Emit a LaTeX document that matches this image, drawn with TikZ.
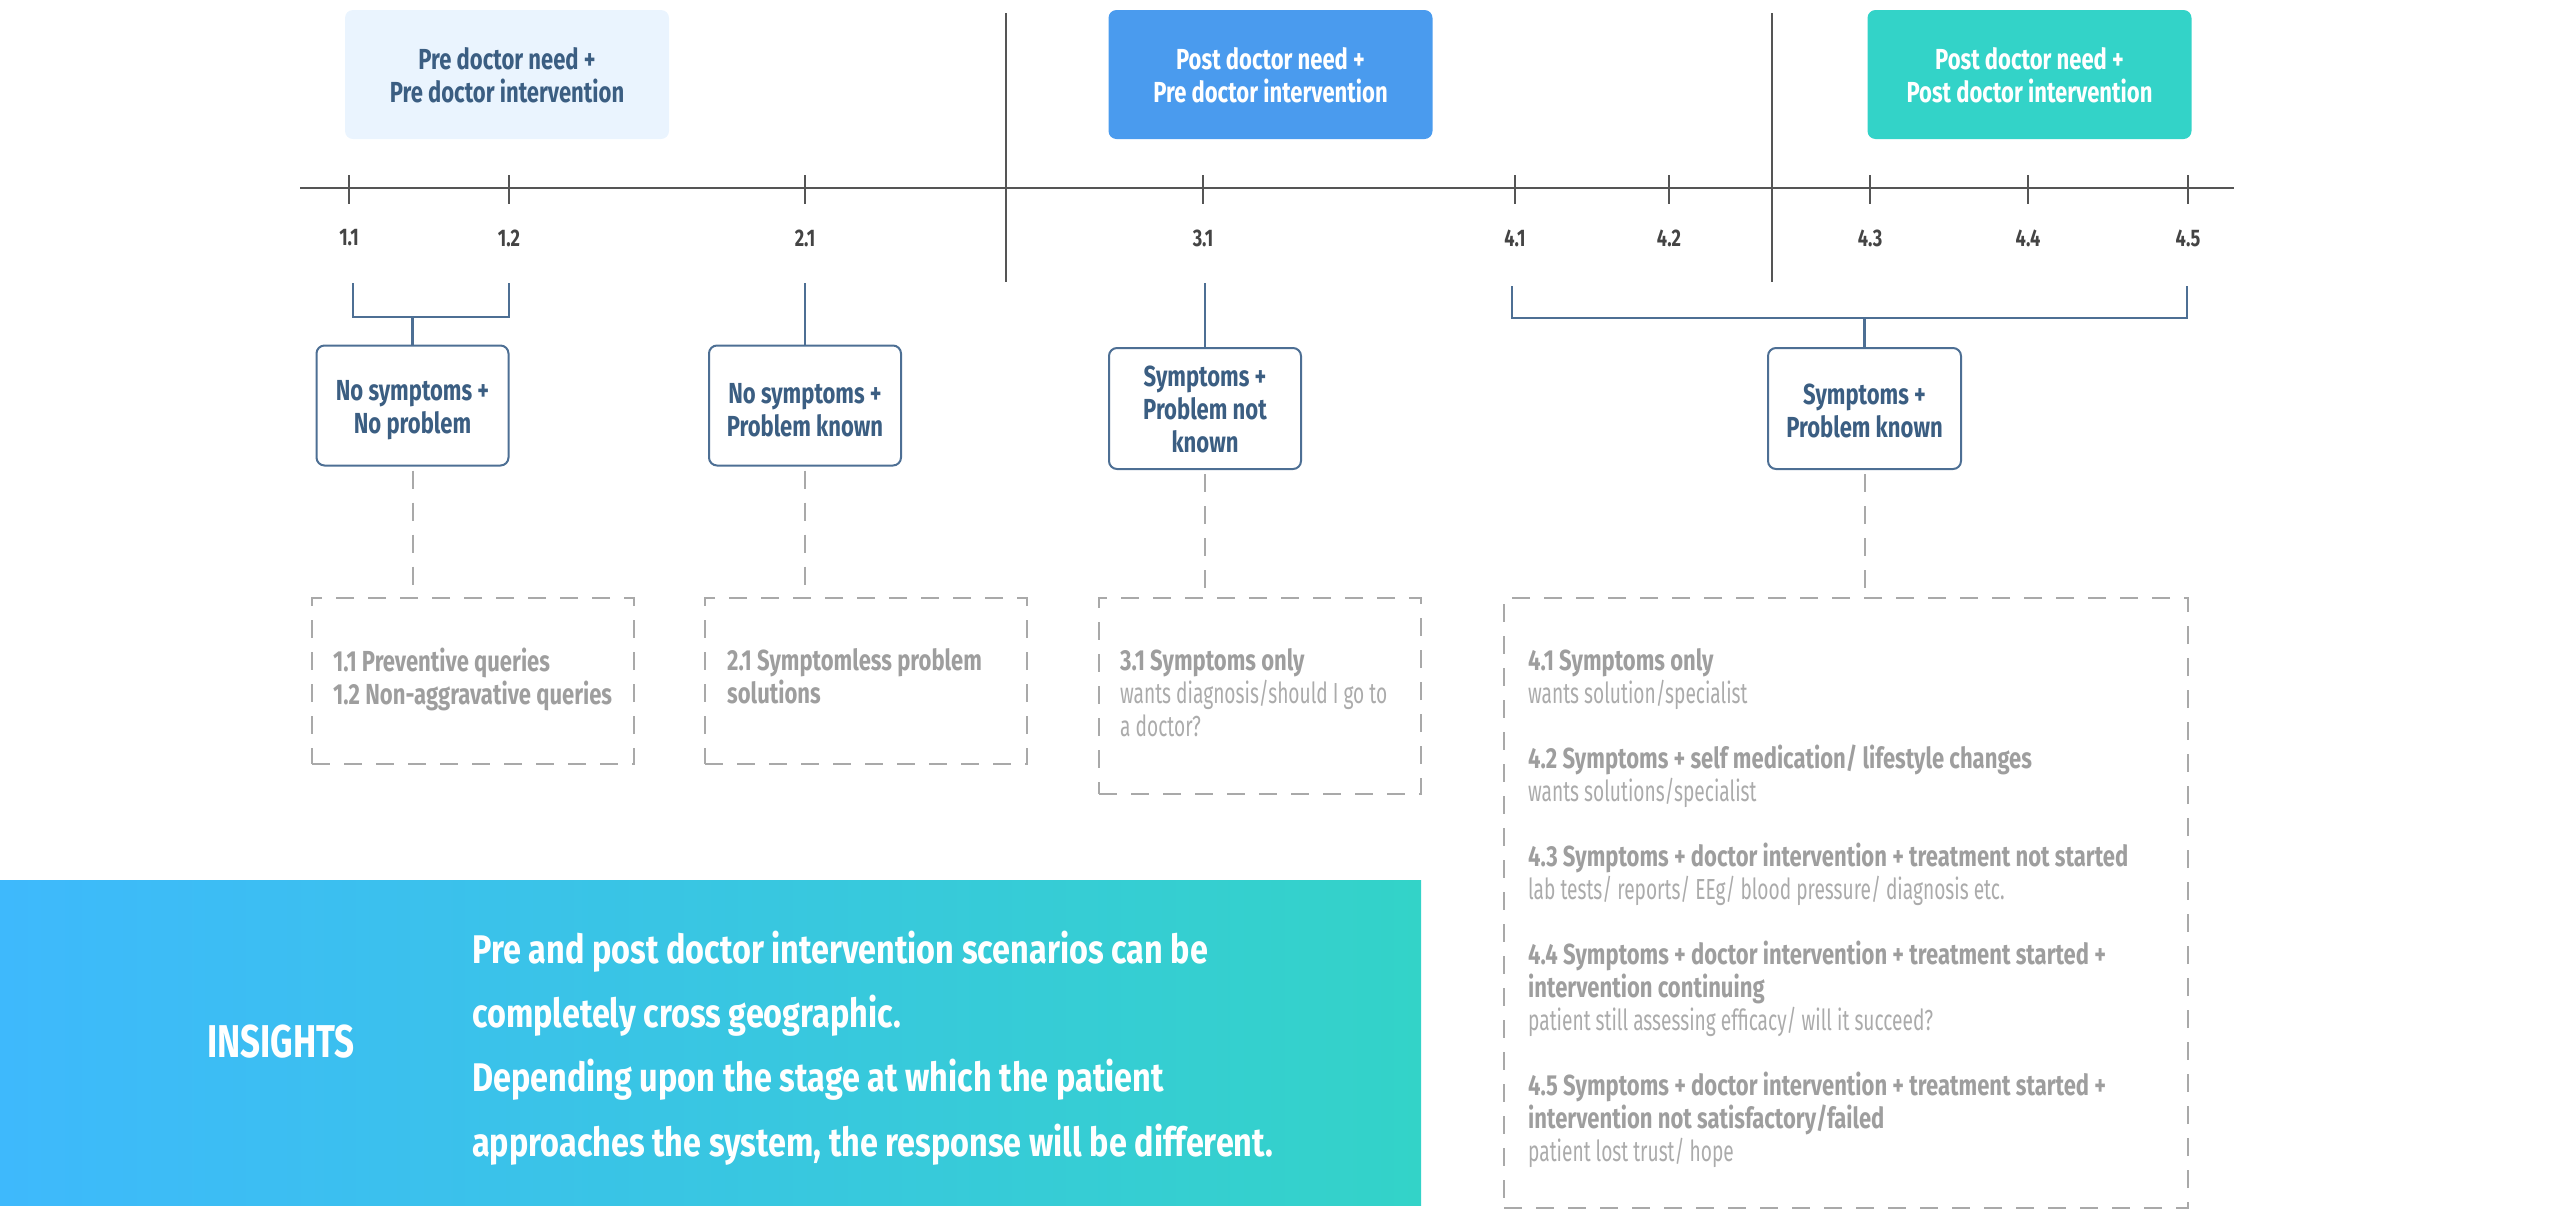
\documentclass[tikz,border=0pt]{standalone}
\usepackage{fontspec}
\setmainfont{Fira Sans}[FakeStretch=0.76]
\newfontfamily\insfont{Fira Sans}[FakeStretch=0.81]
\newfontfamily\lightfont{Fira Sans}[FakeStretch=0.66]
\newcommand\pdn[1]{\rule{0pt}{\dimexpr\fontcharht\font`d+2\dimexpr#1\relax\relax}}
\newcommand\lt[1]{{\lightfont\color{ltgray}#1}}
\definecolor{lightfill}{HTML}{EAF4FE}
\definecolor{bluefill}{HTML}{4A9BEE}
\definecolor{tealfill}{HTML}{33D3C8}
\definecolor{navy}{HTML}{3B5E82}
\definecolor{boxblue}{HTML}{4D6F94}
\definecolor{axisgray}{HTML}{555555}
\definecolor{labgray}{HTML}{444444}
\definecolor{dgray}{HTML}{A9A9A9}
\definecolor{tgray}{HTML}{9E9E9E}
\definecolor{ltgray}{HTML}{ABABAB}
\definecolor{bannerL}{HTML}{3EB9FC}
\definecolor{bannerR}{HTML}{33D3C8}
\tikzset{
  topbox/.style={rounded corners=8pt, minimum width=324pt, minimum height=129pt, align=center, inner sep=0pt,
    font=\fontsize{29}{33}\selectfont\bfseries},
  midbox/.style={draw=boxblue, line width=2pt, rounded corners=8pt, fill=white, minimum width=192pt,
    minimum height=120pt, align=center, inner sep=0pt, text=navy, font=\fontsize{29}{33}\selectfont\bfseries},
  dashbox/.style={draw=dgray, line width=2.5pt, dash pattern=on 18pt off 14pt, inner sep=0pt},
  dashconn/.style={draw=dgray, line width=2pt, dash pattern=on 18pt off 14pt},
  brk/.style={draw=boxblue, line width=2.5pt},
  ticklab/.style={text=labgray, font=\fontsize{24}{28}\selectfont\bfseries, inner sep=0pt},
  axisline/.style={draw=axisgray, line width=2pt},
  tickline/.style={draw=axisgray, line width=1.5pt},
  dtext/.style={anchor=north west, align=left, inner sep=0pt, text=tgray, font=\fontsize{29}{33}\selectfont},
}
\begin{document}
\begin{tikzpicture}[x=1pt,y=-1pt]
\useasboundingbox (0,0) rectangle (2560,1219);

% top boxes
\node[topbox, fill=lightfill, text=navy] (h1) at (507,74.5) {\pdn{0.5pt}Pre doctor need +\\Pre doctor intervention};
\node[topbox, fill=bluefill, text=white] (h2) at (1270.5,74.5) {\pdn{0.5pt}Post doctor need +\\Pre doctor intervention};
\node[topbox, fill=tealfill, text=white] (h3) at (2029.5,74.5) {\pdn{0.5pt}Post doctor need +\\Post doctor intervention};

% axis
\coordinate (axL) at (300,188);
\coordinate (axR) at (2234,188);
\draw[axisline] (axL) -- (axR);
\coordinate (dv1t) at (1006,13); \coordinate (dv1b) at (1006,282);
\coordinate (dv2t) at (1772,13); \coordinate (dv2b) at (1772,282);
\draw[tickline] (dv1t) -- (dv1b);
\draw[tickline] (dv2t) -- (dv2b);

\foreach \x/\n/\l in {349/a/1.1, 509/b/1.2, 805/c/2.1, 1203/d/3.1, 1515/e/4.1, 1669/f/4.2, 1870/g/4.3, 2028/h/4.4, 2188/i/4.5}{
  \coordinate (tk\n t) at (\x,175);
  \coordinate (tk\n b) at (\x,204);
  \draw[tickline] (tk\n t) -- (tk\n b);
  \node[ticklab] (lab\n) at (\x,238) {\l};
}

% middle boxes
\node[midbox] (A) at (412.5,405.5) {\pdn{4pt}No symptoms +\\No problem};
\node[midbox] (B) at (805,405.5) {\pdn{4pt}No symptoms +\\Problem known};
\node[midbox, minimum height=121pt] (C) at (1205,408.5) {\pdn{0.5pt}Symptoms +\\Problem not\\known};
\node[midbox, minimum width=193pt, minimum height=121pt] (D) at (1864.5,408.5) {\pdn{2pt}Symptoms +\\Problem known};

% brackets
\coordinate (b1l) at (353,283); \coordinate (b1r) at (509,283); \coordinate (b1m) at (412.5,317);
\draw[brk] (b1l) -- ++(0,34) -| (b1r);
\draw[brk] (b1m) -- (A.north);
\coordinate (b2) at (805,283);
\draw[brk] (b2) -- (B.north);
\coordinate (b3) at (1205,283);
\draw[brk] (b3) -- (C.north);
\coordinate (b4l) at (1512,286); \coordinate (b4r) at (2187,286); \coordinate (b4m) at (1864.5,318);
\draw[brk] (b4l) -- ++(0,32) -| (b4r);
\draw[brk] (b4m) -- (D.north);

% dashed boxes
\node[dashbox, minimum width=322pt, minimum height=166pt] (d1) at (473,681) {};
\node[dashbox, minimum width=322pt, minimum height=166pt] (d2) at (866,681) {};
\node[dashbox, minimum width=322pt, minimum height=196pt] (d3) at (1260,696) {};
\node[dashbox, minimum width=684pt, minimum height=610pt] (d4) at (1846,903) {};

\draw[dashconn] ([yshift=-4pt]A.south) -- (A.south |- d1.north);
\draw[dashconn] ([yshift=-4pt]B.south) -- (B.south |- d2.north);
\draw[dashconn] ([yshift=-4pt]C.south) -- (C.south |- d3.north);
\draw[dashconn] ([yshift=-4pt]D.south) -- (D.south |- d4.north);

\node[dtext] (t1) at (333,648) {\textbf{1.1 Preventive queries}\\\textbf{1.2 Non-aggravative queries}};
\node[dtext] (t2) at (727,648) {\textbf{2.1 Symptomless problem}\\\textbf{solutions}};
\node[dtext] (t3) at (1120,648) {\textbf{3.1 Symptoms only}\\\lt{wants diagnosis/should I go to}\\\lt{a doctor?}};
\node[dtext] (t4) at (1528,648) {\textbf{4.1 Symptoms only}\\\lt{wants solution/specialist}\\[32pt]
\textbf{4.2 Symptoms + self medication/ lifestyle changes}\\\lt{wants solutions/specialist}\\[32pt]
\textbf{4.3 Symptoms + doctor intervention + treatment not started}\\\lt{lab tests/ reports/ EEg/ blood pressure/ diagnosis etc.}\\[32pt]
\textbf{4.4 Symptoms + doctor intervention + treatment started +}\\\textbf{intervention continuing}\\\lt{patient still assessing efficacy/ will it succeed?}\\[32pt]
\textbf{4.5 Symptoms + doctor intervention + treatment started +}\\\textbf{intervention not satisfactory/failed}\\\lt{patient lost trust/ hope}};

% insights banner
\node[minimum width=1421pt, minimum height=325pt, inner sep=0pt, left color=bannerL, right color=bannerR] (ban) at (710.5,1042.5) {};
\node[text=white, font=\fontsize{46}{50}\selectfont\bfseries, inner sep=0pt] (ins) at (281,1042) {INSIGHTS};
\node[anchor=west, align=left, text=white, inner sep=0pt, font=\insfont\fontsize{40}{64.3}\selectfont\bfseries] (instext) at (472,1048)
{Pre and post doctor intervention scenarios can be\\completely cross geographic.\\Depending upon the stage at which the patient\\approaches the system, the response will be different.};
\end{tikzpicture}
\end{document}
